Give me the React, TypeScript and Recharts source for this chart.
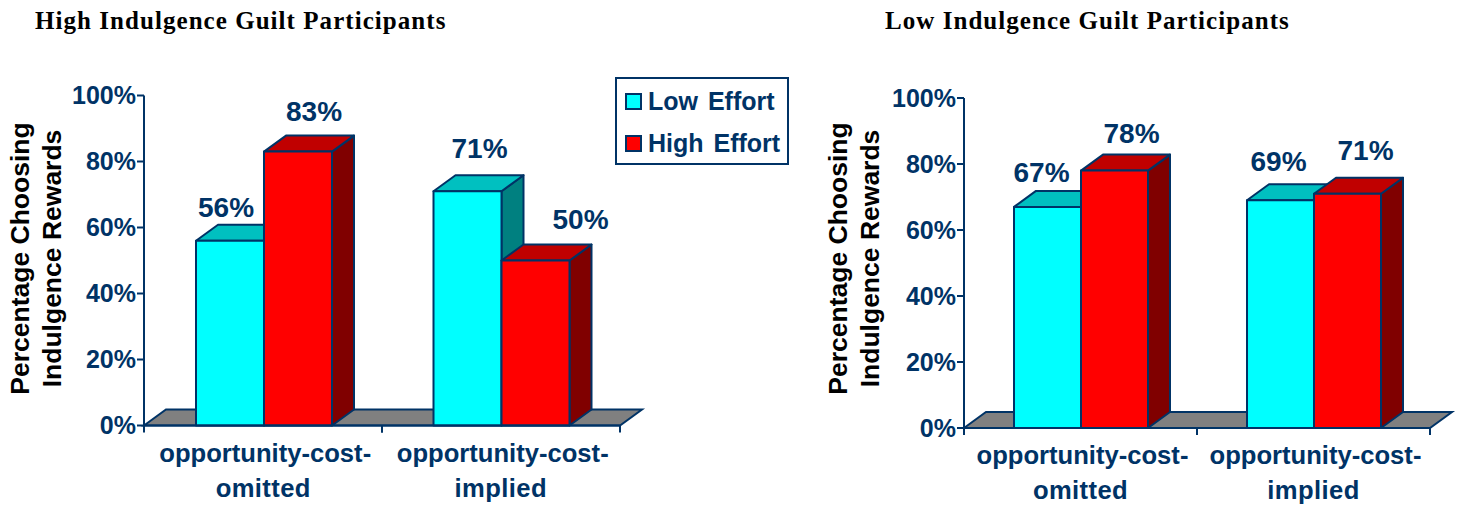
import React from "react";
import { BarChart, Bar, XAxis, YAxis, LabelList, ReferenceArea } from "recharts";

const categories = ["opportunity-cost-omitted", "opportunity-cost-implied"];
const seriesNames = ["Low Effort", "High Effort"];
const highGuiltLow = [56, 71];
const highGuiltHigh = [83, 50];
const lowGuiltLow = [67, 69];
const lowGuiltHigh = [78, 71];
const percentTicks = [0, 20, 40, 60, 80, 100];
const axisTitleLines = ["Percentage Choosing", "Indulgence Rewards"];

const NAVY = "#003366";
const SANS = "'Liberation Sans', Arial, sans-serif";
const DEPTH_X = 22;
const DEPTH_Y = 16;
const FILLS = {
  low: { front: "#00FFFF", top: "#00C0C0", side: "#008080" },
  high: { front: "#FF0000", top: "#C00000", side: "#800000" },
};

type Fills = { front: string; top: string; side: string };

// Front face plus the sheared top and side faces of an extruded column.
function Column3D(props: any & { fills: Fills }) {
  const { x, y, width, height, fills } = props;
  const r = x + width;
  const b = y + height;
  const common = { stroke: NAVY, strokeWidth: 2, strokeLinejoin: "round" as const };
  return (
    <g>
      <polygon
        points={`${r},${y} ${r + DEPTH_X},${y - DEPTH_Y} ${r + DEPTH_X},${b - DEPTH_Y} ${r},${b}`}
        fill={fills.side}
        {...common}
      />
      <polygon
        points={`${x},${y} ${x + DEPTH_X},${y - DEPTH_Y} ${r + DEPTH_X},${y - DEPTH_Y} ${r},${y}`}
        fill={fills.top}
        {...common}
      />
      <rect x={x} y={y} width={width} height={height} fill={fills.front} {...common} />
    </g>
  );
}

// Grey parallelogram the columns stand on.
function Floor(props: any) {
  const { x, y, width } = props;
  return (
    <polygon
      points={`${x},${y} ${x + DEPTH_X},${y - DEPTH_Y} ${x + width + DEPTH_X},${y - DEPTH_Y} ${x + width},${y}`}
      fill="#808080"
      stroke={NAVY}
      strokeWidth={2}
    />
  );
}

function ValueLabel(props: any) {
  const { x, y, width, value, index, offsets } = props;
  const [dx, dy] = offsets[index];
  return (
    <text
      x={x + width / 2 + dx}
      y={y + dy}
      textAnchor="middle"
      fontFamily={SANS}
      fontWeight="bold"
      fontSize={28}
      fill={NAVY}
    >
      {value}%
    </text>
  );
}

// Two-line category name, with tick marks on the band edges rather than its centre.
function CategoryTick(props: any) {
  const { x, y, payload, band, axisLeft, index, textShift } = props;
  const name: string = payload.value;
  const cut = name.lastIndexOf("-") + 1;
  const lines = [name.slice(0, cut), name.slice(cut)];
  const edges = [axisLeft + index * band, axisLeft + (index + 1) * band];
  return (
    <g>
      {edges.map((edge) => (
        <line key={edge} x1={edge} x2={edge} y1={y - 8} y2={y - 1} stroke={NAVY} strokeWidth={2} />
      ))}
      {lines.map((line, i) => (
        <text
          key={line}
          x={x + textShift + (i === 1 ? -2 : 0)}
          y={y + 28 + i * 35}
          textAnchor="middle"
          fontFamily={SANS}
          fontWeight="bold"
          fontSize={25.6}
          letterSpacing={i === 1 ? 0.4 : 0}
          fill={NAVY}
        >
          {line}
        </text>
      ))}
    </g>
  );
}

function AxisTitle({ centerY, x0 }: { centerY: number; x0: number }) {
  return (
    <g>
      {axisTitleLines.map((line, i) => (
        <text
          key={line}
          transform={`translate(${x0 + i * 32},${centerY}) rotate(-90)`}
          textAnchor="middle"
          fontFamily={SANS}
          fontWeight="bold"
          fontSize={26.5}
          fill="#000000"
        >
          {line}
        </text>
      ))}
    </g>
  );
}

type PanelProps = {
  left: number;
  low: number[];
  high: number[];
  margin: { top: number; right: number; bottom: number; left: number };
  gap: number;
  band: number;
  padLeft: number;
  textShift: number;
  lowOffsets: number[][];
  highOffsets: number[][];
  titleX: number;
  titleY: number;
};

function Panel(p: PanelProps) {
  const rows = categories.map((name, i) => ({ name, low: p.low[i], high: p.high[i] }));
  const axisLeft = p.margin.left + 60;
  return (
    <div style={{ position: "absolute", left: p.left, top: 0 }}>
      <BarChart width={731} height={506} data={rows} margin={p.margin} barCategoryGap={p.gap} barGap={0}>
        <ReferenceArea
          y1={0}
          y2={0}
          shape={(s: any) => <Floor x={axisLeft} y={s.y} width={p.band * 2} />}
          ifOverflow="visible"
          zIndex={50}
        />
        <XAxis
          dataKey="name"
          interval={0}
          padding={{ left: p.padLeft, right: 0 }}
          axisLine={{ stroke: NAVY, strokeWidth: 2 }}
          tickLine={false}
          tick={(t: any) => (
            <CategoryTick {...t} band={p.band} axisLeft={axisLeft} textShift={p.textShift} />
          )}
        />
        <YAxis
          width={60}
          domain={[0, 100]}
          ticks={percentTicks}
          interval={0}
          tickFormatter={(v: number) => `${v}%`}
          axisLine={{ stroke: NAVY, strokeWidth: 2 }}
          tickLine={{ stroke: NAVY, strokeWidth: 2 }}
          tickSize={7}
          tickMargin={1}
          tick={{ fill: NAVY, fontFamily: SANS, fontWeight: "bold", fontSize: 25 }}
        />
        <Bar
          dataKey="low"
          name={seriesNames[0]}
          isAnimationActive={false}
          shape={(s: any) => <Column3D {...s} fills={FILLS.low} />}
        >
          <LabelList dataKey="low" content={(l: any) => <ValueLabel {...l} offsets={p.lowOffsets} />} />
        </Bar>
        <Bar
          dataKey="high"
          name={seriesNames[1]}
          isAnimationActive={false}
          shape={(s: any) => <Column3D {...s} fills={FILLS.high} />}
        >
          <LabelList dataKey="high" content={(l: any) => <ValueLabel {...l} offsets={p.highOffsets} />} />
        </Bar>
        <AxisTitle x0={p.titleX} centerY={p.titleY} />
      </BarChart>
    </div>
  );
}

function Heading({ x, children }: { x: number; children: string }) {
  return (
    <div
      style={{
        position: "absolute",
        left: x,
        top: 7,
        fontFamily: "'Liberation Serif', serif",
        fontWeight: "bold",
        fontSize: 25,
        letterSpacing: 1.05,
        color: "#000",
        whiteSpace: "nowrap",
      }}
    >
      {children}
    </div>
  );
}

function EffortLegend() {
  const swatches = [FILLS.low.front, FILLS.high.front];
  return (
    <div
      style={{
        position: "absolute",
        left: 615,
        top: 77,
        width: 170,
        height: 84,
        border: `2px solid ${NAVY}`,
        background: "#fff",
      }}
    >
      {seriesNames.map((name, i) => (
        <div
          key={name}
          style={{
            position: "absolute",
            left: 8,
            top: 7 + i * 42,
            height: 30,
            display: "flex",
            alignItems: "center",
            fontFamily: SANS,
            fontWeight: "bold",
            fontSize: 25,
            wordSpacing: 3,
            color: NAVY,
            whiteSpace: "nowrap",
          }}
        >
          <span
            style={{
              display: "inline-block",
              width: 13,
              height: 13,
              marginRight: 6,
              background: swatches[i],
              border: `2px solid ${NAVY}`,
            }}
          />
          {name}
        </div>
      ))}
    </div>
  );
}

export default function App() {
  return (
    <div style={{ position: "absolute", left: 0, top: 0, width: 1462, height: 506, overflow: "hidden", background: "#fff" }}>
      <Heading x={35}>High Indulgence Guilt Participants</Heading>
      <Heading x={885}>Low Indulgence Guilt Participants</Heading>
      <Panel
        left={0}
        low={highGuiltLow}
        high={highGuiltHigh}
        margin={{ top: 95.5, right: 111, bottom: 50.5, left: 84 }}
        gap={51}
        band={238}
        padLeft={1}
        textShift={1.5}
        lowOffsets={[[-4, -24], [12, -33]]}
        highOffsets={[[16, -31], [45, -32]]}
        titleX={29}
        titleY={258.5}
      />
      <Panel
        left={731}
        low={lowGuiltLow}
        high={lowGuiltHigh}
        margin={{ top: 98, right: 32, bottom: 48, left: 173 }}
        gap={50}
        band={233}
        padLeft={0}
        textShift={2}
        lowOffsets={[[-6, -25], [-2, -29]]}
        highOffsets={[[17, -28], [18, -34]]}
        titleX={116}
        titleY={258.5}
      />
      <EffortLegend />
    </div>
  );
}
